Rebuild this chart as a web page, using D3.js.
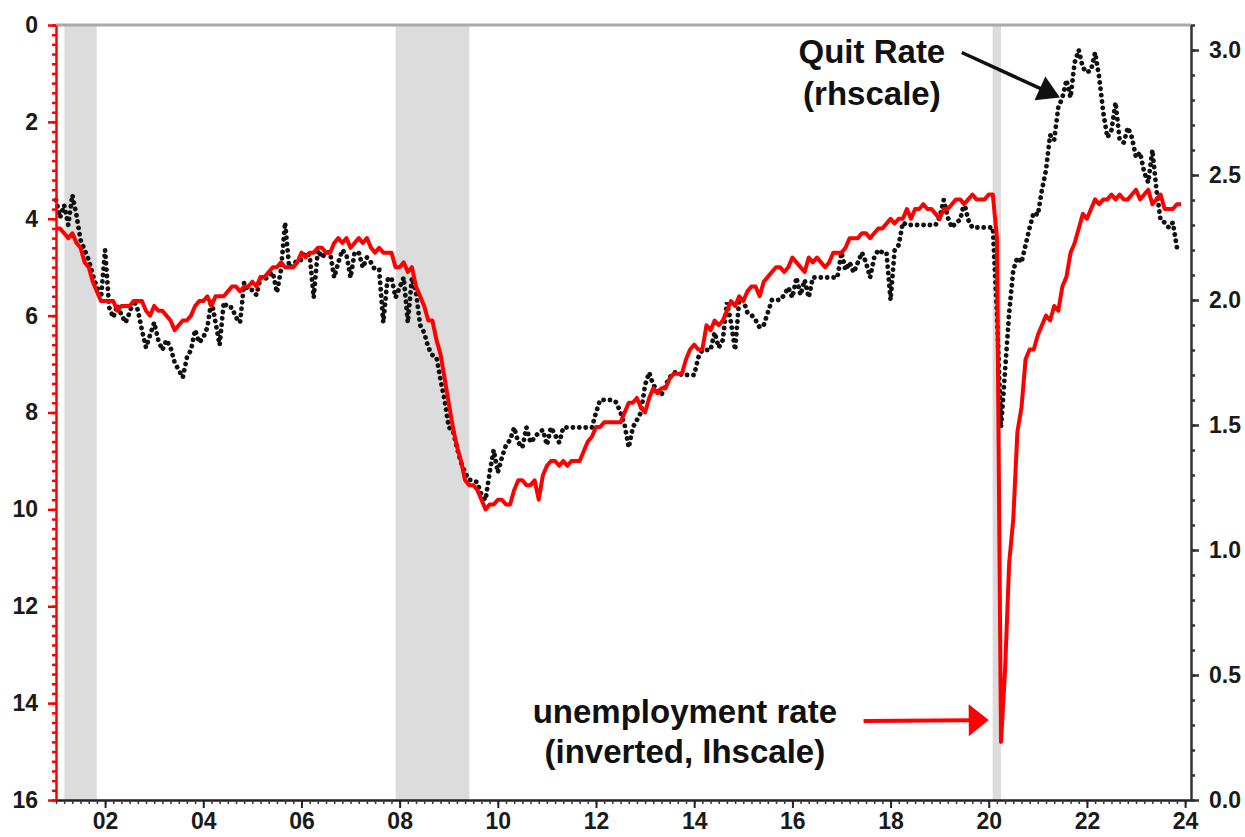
<!DOCTYPE html>
<html>
<head>
<meta charset="utf-8">
<script src="https://cdn.jsdelivr.net/npm/d3@7"></script>
<style>
  body { margin: 0; background: #fff; }
  svg text { font-family: "Liberation Sans", Arial, sans-serif; font-weight: bold; }
</style>
</head>
<body>
<div id="chart"></div>
<script>
// monthly series, first value = Jan 2001
const startYear = 2001;

// unemployment rate, %, inverted left scale
const unrate = [
  4.2, 4.2, 4.3, 4.4, 4.3, 4.5, 4.6, 4.9, 5.0, 5.3, 5.5, 5.7,   // 2001
  5.7, 5.7, 5.7, 5.9, 5.8, 5.8, 5.8, 5.7, 5.7, 5.7, 5.9, 6.0,   // 2002
  5.8, 5.9, 5.9, 6.0, 6.1, 6.3, 6.2, 6.1, 6.1, 6.0, 5.8, 5.7,   // 2003
  5.7, 5.6, 5.8, 5.6, 5.6, 5.6, 5.5, 5.4, 5.4, 5.5, 5.4, 5.4,   // 2004
  5.3, 5.4, 5.2, 5.2, 5.1, 5.0, 5.0, 4.9, 5.0, 5.0, 5.0, 4.9,   // 2005
  4.7, 4.8, 4.7, 4.7, 4.6, 4.6, 4.7, 4.7, 4.5, 4.4, 4.5, 4.4,   // 2006
  4.6, 4.5, 4.4, 4.5, 4.4, 4.6, 4.7, 4.6, 4.7, 4.7, 4.7, 5.0,   // 2007
  5.0, 4.9, 5.1, 5.0, 5.4, 5.6, 5.8, 6.1, 6.1, 6.5, 6.8, 7.3,   // 2008
  7.8, 8.3, 8.7, 9.0, 9.4, 9.5, 9.5, 9.6, 9.8, 10.0, 9.9, 9.9,  // 2009
  9.8, 9.8, 9.9, 9.9, 9.6, 9.4, 9.4, 9.5, 9.5, 9.4, 9.8, 9.3,   // 2010
  9.1, 9.0, 9.0, 9.1, 9.0, 9.1, 9.0, 9.0, 9.0, 8.8, 8.6, 8.5,   // 2011
  8.3, 8.3, 8.2, 8.2, 8.2, 8.2, 8.2, 8.0, 7.8, 7.8, 7.7, 7.9,   // 2012
  8.0, 7.7, 7.5, 7.6, 7.5, 7.5, 7.3, 7.2, 7.2, 7.2, 6.9, 6.7,   // 2013
  6.6, 6.7, 6.7, 6.2, 6.3, 6.1, 6.2, 6.1, 5.9, 5.7, 5.8, 5.6,   // 2014
  5.7, 5.5, 5.4, 5.4, 5.6, 5.3, 5.2, 5.1, 5.0, 5.0, 5.1, 5.0,   // 2015
  4.8, 4.9, 5.0, 5.1, 4.8, 4.9, 4.8, 4.9, 5.0, 4.9, 4.7, 4.7,   // 2016
  4.7, 4.6, 4.4, 4.4, 4.4, 4.3, 4.3, 4.4, 4.3, 4.2, 4.2, 4.1,   // 2017
  4.0, 4.1, 4.0, 4.0, 3.8, 4.0, 3.8, 3.8, 3.7, 3.8, 3.8, 3.9,   // 2018
  4.0, 3.8, 3.8, 3.7, 3.6, 3.6, 3.7, 3.6, 3.5, 3.6, 3.6, 3.6,   // 2019
  3.5, 3.5, 4.4, 14.8, 13.3, 11.1, 10.2, 8.4, 7.9, 6.9, 6.7, 6.7, // 2020
  6.4, 6.2, 6.0, 6.1, 5.8, 5.9, 5.4, 5.2, 4.7, 4.5, 4.2, 3.9,   // 2021
  4.0, 3.8, 3.6, 3.7, 3.6, 3.6, 3.5, 3.6, 3.5, 3.6, 3.6, 3.5,   // 2022
  3.4, 3.6, 3.5, 3.4, 3.7, 3.6, 3.5, 3.8, 3.8, 3.8, 3.7, 3.7    // 2023
];

// quit rate, %, right scale
const quits = [
  2.40, 2.33, 2.38, 2.30, 2.42, 2.34, 2.24, 2.20, 2.16, 2.10, 2.05, 2.01, // 2001
  2.20, 1.97, 1.93, 1.98, 1.94, 1.91, 1.95, 2.00, 1.96, 1.88, 1.81, 1.86, // 2002
  1.91, 1.84, 1.80, 1.84, 1.81, 1.75, 1.72, 1.69, 1.77, 1.80, 1.88, 1.83, // 2003
  1.85, 1.89, 2.00, 1.91, 1.82, 1.99, 1.97, 1.97, 1.93, 1.91, 2.07, 2.04, // 2004
  2.04, 2.02, 2.09, 2.08, 2.10, 2.11, 2.03, 2.12, 2.31, 2.13, 2.14, 2.16, // 2005
  2.16, 2.19, 2.18, 2.01, 2.20, 2.17, 2.19, 2.19, 2.09, 2.15, 2.20, 2.18, // 2006
  2.09, 2.19, 2.19, 2.13, 2.17, 2.15, 2.12, 2.12, 1.91, 2.08, 2.09, 2.01, // 2007
  2.05, 2.09, 1.91, 2.09, 2.03, 1.90, 1.87, 1.81, 1.78, 1.77, 1.68, 1.60, // 2008
  1.49, 1.48, 1.41, 1.35, 1.31, 1.28, 1.28, 1.27, 1.22, 1.20, 1.31, 1.40, // 2009
  1.31, 1.37, 1.42, 1.44, 1.49, 1.43, 1.41, 1.49, 1.43, 1.45, 1.47, 1.48, // 2010
  1.42, 1.49, 1.46, 1.43, 1.49, 1.49, 1.49, 1.49, 1.49, 1.49, 1.49, 1.49, // 2011
  1.55, 1.60, 1.60, 1.60, 1.60, 1.59, 1.55, 1.50, 1.41, 1.49, 1.52, 1.55, // 2012
  1.66, 1.71, 1.66, 1.64, 1.62, 1.66, 1.69, 1.71, 1.71, 1.70, 1.70, 1.70, // 2013
  1.70, 1.77, 1.80, 1.80, 1.80, 1.87, 1.81, 1.84, 1.99, 1.91, 1.80, 2.00, // 2014
  2.00, 1.95, 1.94, 1.92, 1.89, 1.90, 1.95, 2.00, 2.00, 2.00, 2.02, 2.05, // 2015
  2.01, 2.09, 2.02, 2.08, 2.01, 2.09, 2.09, 2.09, 2.09, 2.09, 2.09, 2.09, // 2016
  2.19, 2.12, 2.15, 2.11, 2.15, 2.19, 2.15, 2.09, 2.17, 2.20, 2.19, 2.19, // 2017
  2.00, 2.20, 2.22, 2.31, 2.30, 2.30, 2.30, 2.30, 2.30, 2.30, 2.30, 2.30, // 2018
  2.33, 2.40, 2.33, 2.29, 2.31, 2.32, 2.39, 2.32, 2.29, 2.29, 2.29, 2.29, // 2019
  2.29, 2.29, 1.95, 1.49, 1.72, 1.95, 2.12, 2.17, 2.15, 2.22, 2.29, 2.35, // 2020
  2.34, 2.44, 2.52, 2.66, 2.64, 2.77, 2.81, 2.88, 2.81, 2.95, 3.00, 2.93, // 2021
  2.91, 2.92, 2.99, 2.89, 2.75, 2.65, 2.68, 2.79, 2.64, 2.63, 2.69, 2.65, // 2022
  2.57, 2.59, 2.51, 2.47, 2.60, 2.44, 2.32, 2.31, 2.29, 2.31, 2.21        // 2023
];

const recessions = [[2001.17, 2001.83], [2007.92, 2009.42], [2020.08, 2020.25]];

const leftTicks = [0, 2, 4, 6, 8, 10, 12, 14, 16];
const rightTicks = [0, 0.5, 1.0, 1.5, 2.0, 2.5, 3.0];
const yearTicks = [2002, 2004, 2006, 2008, 2010, 2012, 2014, 2016, 2018, 2020, 2022, 2024];
const yearLabels = ['02', '04', '06', '08', '10', '12', '14', '16', '18', '20', '22', '24'];

const width = 1245, height = 837;
const margin = { top: 25, right: 54, bottom: 37, left: 56 };
const boundedWidth = width - margin.left - margin.right;
const boundedHeight = height - margin.top - margin.bottom;

const svg = d3.select('#chart').append('svg')
  .attr('width', width)
  .attr('height', height);

const g = svg.append('g')
  .attr('transform', `translate(${margin.left}, ${margin.top})`);

// Scales
const x = d3.scaleLinear().domain([2001.0, 2024.12]).range([0, boundedWidth]);
const yL = d3.scaleLinear().domain([0, 16]).range([0, boundedHeight]);   // inverted
const yR = d3.scaleLinear().domain([0, 3.1]).range([boundedHeight, 0]);

const monthT = i => startYear + i / 12;

// recession shading
g.selectAll('rect.recession')
  .data(recessions)
  .join('rect')
  .attr('class', 'recession')
  .attr('x', d => x(d[0]))
  .attr('width', d => x(d[1]) - x(d[0]))
  .attr('y', 0)
  .attr('height', boundedHeight)
  .attr('fill', '#dcdcdc');

// top frame line
g.append('line')
  .attr('x1', 0).attr('x2', boundedWidth)
  .attr('y1', 0).attr('y2', 0)
  .attr('stroke', '#a9a9a9')
  .attr('stroke-width', 3);

// quit rate (dotted)
const quitLine = d3.line()
  .x((d, i) => x(monthT(i)))
  .y(d => yR(d));

g.append('path')
  .datum(quits)
  .attr('d', quitLine)
  .attr('fill', 'none')
  .attr('stroke', '#111')
  .attr('stroke-width', 4.8)
  .attr('stroke-linecap', 'round')
  .attr('stroke-dasharray', '0.1 6.3');

// unemployment rate (red)
const unLine = d3.line()
  .x((d, i) => x(monthT(i)))
  .y(d => yL(d));

g.append('path')
  .datum(unrate)
  .attr('d', unLine)
  .attr('fill', 'none')
  .attr('stroke', '#ff0000')
  .attr('stroke-width', 4)
  .attr('stroke-linejoin', 'round');

// Axes
const minorX = d3.range(0, 23 * 12 + 2, 2).map(monthT);

const xMinor = g.append('g')
  .attr('transform', `translate(0, ${boundedHeight})`)
  .call(d3.axisBottom(x).tickValues(minorX).tickSize(4).tickSizeOuter(0).tickFormat(''));
xMinor.select('.domain').attr('stroke', '#222').attr('stroke-width', 2.5);
xMinor.selectAll('.tick line').attr('stroke', '#333').attr('stroke-width', 1.5);

const xMajor = g.append('g')
  .attr('transform', `translate(0, ${boundedHeight})`)
  .call(d3.axisBottom(x).tickValues(yearTicks).tickSize(8).tickSizeOuter(0).tickPadding(5)
    .tickFormat((d, i) => yearLabels[i]));
xMajor.select('.domain').remove();
xMajor.selectAll('.tick line').attr('stroke', '#222').attr('stroke-width', 2);
xMajor.selectAll('.tick text').attr('fill', '#1a1a1a').style('font-size', '23px');

const leftMinor = g.append('g')
  .call(d3.axisLeft(yL).tickValues(d3.range(0, 16.01, 0.2)).tickSize(4).tickSizeOuter(0).tickFormat(''));
leftMinor.select('.domain').attr('stroke', '#ff0000').attr('stroke-width', 2.5);
leftMinor.selectAll('.tick line').attr('stroke', '#ff0000').attr('stroke-width', 2.5);

const leftMajor = g.append('g')
  .call(d3.axisLeft(yL).tickValues(leftTicks).tickSize(8).tickSizeOuter(0).tickPadding(10));
leftMajor.select('.domain').remove();
leftMajor.selectAll('.tick line').attr('stroke', '#ff0000').attr('stroke-width', 2.5);
leftMajor.selectAll('.tick text').attr('fill', '#1a1a1a').style('font-size', '23px');

const rightMinor = g.append('g')
  .attr('transform', `translate(${boundedWidth}, 0)`)
  .call(d3.axisRight(yR).tickValues(d3.range(0, 3.101, 0.1)).tickSize(4).tickSizeOuter(0).tickFormat(''));
rightMinor.select('.domain').attr('stroke', '#333').attr('stroke-width', 2.5);
rightMinor.selectAll('.tick line').attr('stroke', '#333').attr('stroke-width', 2.5);

const rightMajor = g.append('g')
  .attr('transform', `translate(${boundedWidth}, 0)`)
  .call(d3.axisRight(yR).tickValues(rightTicks).tickSize(8).tickSizeOuter(0).tickPadding(10)
    .tickFormat(d3.format('.1f')));
rightMajor.select('.domain').remove();
rightMajor.selectAll('.tick line').attr('stroke', '#333').attr('stroke-width', 2.5);
rightMajor.selectAll('.tick text').attr('fill', '#1a1a1a').style('font-size', '23px');

// Annotations
function arrow(sel, x1, y1, x2, y2, color, w, headLen, headHalf) {
  const dx = x2 - x1, dy = y2 - y1;
  const len = Math.sqrt(dx * dx + dy * dy);
  const ux = dx / len, uy = dy / len;
  const bx = x2 - ux * headLen, by = y2 - uy * headLen;
  sel.append('line')
    .attr('x1', x1).attr('y1', y1).attr('x2', bx + ux * 2).attr('y2', by + uy * 2)
    .attr('stroke', color).attr('stroke-width', w);
  sel.append('path')
    .attr('d', `M${x2},${y2}L${bx - uy * headHalf},${by + ux * headHalf}L${bx + uy * headHalf},${by - ux * headHalf}Z`)
    .attr('fill', color);
}

const quitNote = g.append('g');
quitNote.append('text')
  .attr('x', x(2017.62)).attr('y', yR(2.95))
  .attr('text-anchor', 'middle')
  .style('font-size', '33px')
  .attr('fill', '#111')
  .text('Quit Rate');
quitNote.append('text')
  .attr('x', x(2017.62)).attr('y', yR(2.78))
  .attr('text-anchor', 'middle')
  .style('font-size', '33px')
  .attr('fill', '#111')
  .text('(rhscale)');
arrow(quitNote, x(2019.45), yR(2.99), x(2021.45), yR(2.81), '#111', 3.5, 22, 13);

const unNote = g.append('g');
unNote.append('text')
  .attr('x', x(2013.81)).attr('y', yL(14.4))
  .attr('text-anchor', 'middle')
  .style('font-size', '33px')
  .attr('fill', '#111')
  .text('unemployment rate');
unNote.append('text')
  .attr('x', x(2013.81)).attr('y', yL(15.23))
  .attr('text-anchor', 'middle')
  .style('font-size', '33px')
  .attr('fill', '#111')
  .text('(inverted, lhscale)');
arrow(unNote, x(2017.45), yL(14.37), x(2020.0), yL(14.35), '#ff0000', 4, 20, 16);
</script>
</body>
</html>
